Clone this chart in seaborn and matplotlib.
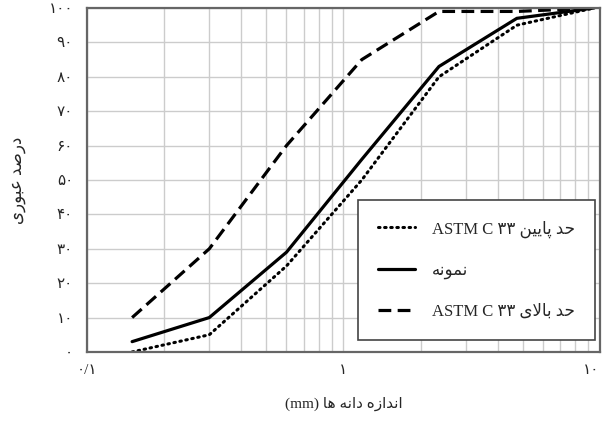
import numpy as np
import pandas as pd
import matplotlib
matplotlib.use("Agg")
import matplotlib.pyplot as plt
import seaborn as sns

# sieve sizes (mm) and percent passing
sieve_mm = [0.15, 0.3, 0.6, 1.18, 2.36, 4.75, 9.5]
lower_limit = [0, 5, 25, 50, 80, 95, 100]
sample = [3, 10, 29, 56, 83, 97, 100]
upper_limit = [10, 30, 60, 85, 99, 99, 100]

y_ticks = list(range(0, 101, 10))
x_ticks = [0.1, 1, 10]

# --- minimal Persian shaping (matplotlib does not shape Arabic script) ---
FORMS = {  # iso, fin, ini, med  (None -> does not join to the left)
    'ا': ('\uFE8D', '\uFE8E', None, None),
    'ب': ('\uFE8F', '\uFE90', '\uFE91', '\uFE92'),
    'پ': ('\uFB56', '\uFB57', '\uFB58', '\uFB59'),
    'ت': ('\uFE95', '\uFE96', '\uFE97', '\uFE98'),
    'ح': ('\uFEA1', '\uFEA2', '\uFEA3', '\uFEA4'),
    'د': ('\uFEA9', '\uFEAA', None, None),
    'ر': ('\uFEAD', '\uFEAE', None, None),
    'ز': ('\uFEAF', '\uFEB0', None, None),
    'ص': ('\uFEB9', '\uFEBA', '\uFEBB', '\uFEBC'),
    'ع': ('\uFEC9', '\uFECA', '\uFECB', '\uFECC'),
    'ل': ('\uFEDD', '\uFEDE', '\uFEDF', '\uFEE0'),
    'م': ('\uFEE1', '\uFEE2', '\uFEE3', '\uFEE4'),
    'ن': ('\uFEE5', '\uFEE6', '\uFEE7', '\uFEE8'),
    'ه': ('\uFEE9', '\uFEEA', '\uFEEB', '\uFEEC'),
    'و': ('\uFEED', '\uFEEE', None, None),
    'ی': ('\uFBFC', '\uFBFD', '\uFBFE', '\uFBFF'),
}


def joins_left(c):
    return c in FORMS and FORMS[c][2] is not None


def fa(text):
    out = []
    i = 0
    n = len(text)
    while i < n:
        c = text[i]
        prev = text[i - 1] if i > 0 else ''
        connect_prev = joins_left(prev) and c in FORMS
        if c == 'ل' and i + 1 < n and text[i + 1] == 'ا':
            out.append('\uFEFC' if connect_prev else '\uFEFB')
            i += 2
            continue
        if c not in FORMS:
            out.append(c)
            i += 1
            continue
        nxt = text[i + 1] if i + 1 < n else ''
        connect_next = joins_left(c) and nxt in FORMS
        iso, fin, ini, med = FORMS[c]
        if connect_prev and connect_next:
            out.append(med)
        elif connect_prev:
            out.append(fin)
        elif connect_next:
            out.append(ini)
        else:
            out.append(iso)
        i += 1
    return ''.join(reversed(out))


def fa_digits(s):
    return str(s).translate(str.maketrans('0123456789', '۰۱۲۳۴۵۶۷۸۹'))


ylabel = fa('درصد عبوری')
xlabel = '(mm) ' + fa('اندازه دانه ها')
lab_lower = 'ASTM C ' + fa_digits(33) + ' ' + fa('حد پایین')
lab_sample = fa('نمونه')
lab_upper = 'ASTM C ' + fa_digits(33) + ' ' + fa('حد بالای')
x_tick_labels = ['۰/۱', '۱', '۱۰']

sns.set_style('white')
plt.rcParams['font.family'] = ['Liberation Serif', 'DejaVu Sans']

df = pd.DataFrame({'size': sieve_mm, 'lower': lower_limit,
                   'sample': sample, 'upper': upper_limit})

fig = plt.figure(figsize=(6.04, 4.21), dpi=100)
ax = fig.add_axes([0.144, 0.164, 0.849, 0.817])

sns.lineplot(data=df, x='size', y='lower', ax=ax, color='black', lw=2.2,
             linestyle=(0, (0.5, 1.5)), dash_capstyle='round', label=lab_lower)
sns.lineplot(data=df, x='size', y='sample', ax=ax, color='black', lw=2.3,
             label=lab_sample)
sns.lineplot(data=df, x='size', y='upper', ax=ax, color='black', lw=2.3,
             linestyle=(0, (4, 2)), label=lab_upper)

ax.set_xscale('log')
ax.set_xlim(0.1, 10)
ax.set_ylim(0, 100)
ax.set_xticks(x_ticks)
ax.set_xticklabels(x_tick_labels)
ax.set_yticks(y_ticks)
ax.set_yticklabels([fa_digits(v) for v in y_ticks])
ax.tick_params(axis='both', which='both', labelsize=11, length=0, pad=9)
ax.tick_params(axis='y', length=4, color='#cccccc', width=1, pad=6)
ax.get_xticklabels()[-1].set_horizontalalignment('right')

ax.grid(True, which='major', color='#cccccc', lw=1)
ax.grid(True, which='minor', axis='x', color='#cccccc', lw=1)
ax.set_axisbelow(True)
for s in ax.spines.values():
    s.set_color('#666666')
    s.set_linewidth(1.6)

ax.set_xlabel(xlabel, fontsize=11, labelpad=14)
ax.set_ylabel(ylabel, fontsize=12, labelpad=16)

leg = ax.legend(loc='lower right', bbox_to_anchor=(0.99, 0.035), fontsize=12,
                frameon=True, fancybox=False, framealpha=1, edgecolor='#444444',
                handlelength=2.2, labelspacing=1.5, borderpad=1.2,
                handletextpad=1.0, borderaxespad=0)
leg.get_frame().set_linewidth(1.2)

fig.savefig('out.png', dpi=100)
